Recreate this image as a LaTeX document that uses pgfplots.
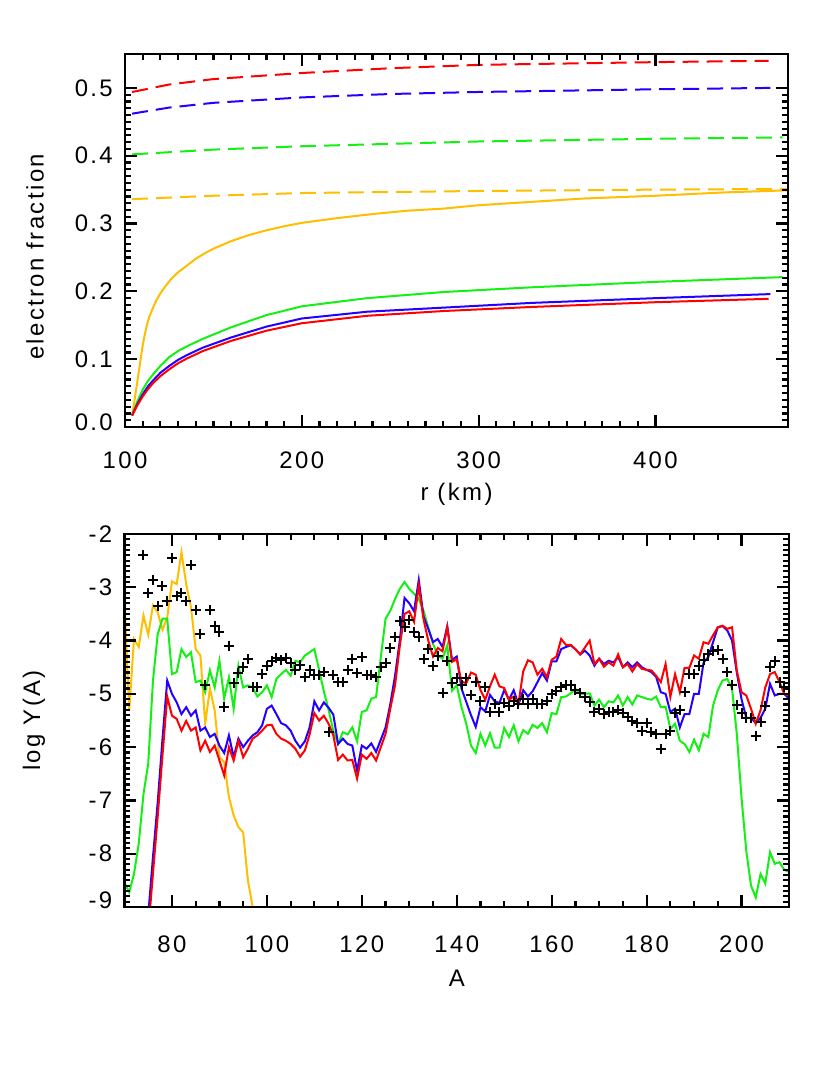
\documentclass[border=0pt]{standalone}
\usepackage{fontspec}
\setmainfont{Liberation Sans}[LetterSpace=10]
\usepackage{pgfplots}
\pgfplotsset{compat=1.18}
\usepackage{pgfplotstable}

\definecolor{cred}{RGB}{255,0,0}
\definecolor{cblue}{RGB}{35,0,255}
\definecolor{cgreen}{RGB}{20,240,20}
\definecolor{corange}{RGB}{255,190,0}

\pgfplotsset{
  idlaxis/.style={
    scale only axis, height=373bp, anchor=south west,
    axis on top,
    tick align=inside, xtick pos=both, ytick pos=both,
    major tick length=12bp, minor tick length=6bp,
    every tick/.append style={black, line width=2.2bp},
    axis line style={line width=2.5bp},
    tick label style={font=\fontsize{24}{28}\selectfont},
    label style={font=\fontsize{24}{28}\selectfont},
    xticklabel style={anchor=center, inner sep=0pt},
    yticklabel style={anchor=east, inner sep=0pt, xshift=-12bp},
    xlabel style={anchor=center},
    ylabel style={anchor=center},
  },
  dataline/.style={line width=2bp},
  datadash/.style={line width=2bp, dash pattern=on 16bp off 8bp},
}

\begin{document}
% bottom panel: log abundances per mass number
\pgfplotstableread{
A red blue green orange
70 nan nan -8.55 -3.30
71 nan nan -8.72 -5.31
72 nan nan -8.38 -3.97
73 nan nan -7.81 -4.12
74 nan nan -6.88 -3.53
75 -9.45 -9.15 -6.31 -3.89
76 -8.37 -8.06 -4.75 -3.34
77 -7.30 -7.03 -3.88 -3.47
78 -6.16 -5.85 -3.59 -3.80
79 -5.05 -4.75 -3.59 -3.57
80 -5.41 -5.00 -4.63 -2.89
81 -5.47 -5.16 -4.59 -2.94
82 -5.69 -5.38 -4.16 -2.34
83 -5.51 -5.25 -4.31 -2.94
84 -5.69 -5.41 -4.22 -3.37
85 -5.63 -5.31 -4.78 -4.16
86 -6.06 -5.69 -4.75 -4.28
87 -5.88 -5.63 -4.97 -5.56
88 -6.09 -5.81 -4.56 -4.90
89 -5.97 -5.75 -4.88 -5.31
90 -6.25 -5.97 -4.38 -6.19
91 -6.53 -6.11 -5.09 -6.28
92 -6.00 -5.78 -4.69 -6.94
93 -6.25 -6.19 -5.28 -7.28
94 -5.88 -5.84 -4.47 -7.50
95 -6.19 -6.00 -4.88 -7.60
96 -6.03 -5.88 -4.84 -8.50
97 -5.84 -5.78 -4.88 -9.00
98 -5.78 -5.72 -5.05 -9.60
99 -5.69 -5.59 -4.97 nan
100 -5.59 -5.28 -4.84 nan
101 -5.58 -5.22 -5.06 nan
102 -5.75 -5.38 -4.72 nan
103 -5.84 -5.55 -4.63 nan
104 -5.88 -5.59 -4.55 nan
105 -5.94 -5.69 -4.66 nan
106 -6.03 -5.88 -4.38 nan
107 -6.18 -6.01 -4.41 nan
108 -6.06 -5.89 -4.28 nan
109 -5.76 -5.63 -4.22 nan
110 -5.36 -5.14 -4.16 nan
111 -5.50 -5.31 -4.55 nan
112 -5.41 -5.16 -4.95 nan
113 -5.56 -5.26 -5.30 nan
114 -5.78 -5.39 -5.70 nan
115 -6.24 -5.94 -5.94 nan
116 -6.14 -5.84 -5.72 nan
117 -6.25 -5.94 -5.76 nan
118 -6.24 -5.97 -5.63 nan
119 -6.59 -6.44 -5.89 nan
120 -6.14 -5.97 -5.34 nan
121 -6.22 -6.03 -5.31 nan
122 -6.11 -5.93 -5.09 nan
123 -6.25 -6.09 -5.06 nan
124 -6.00 -5.86 -4.31 nan
125 -5.75 -5.63 -3.59 nan
126 -5.28 -5.19 -3.44 nan
127 -4.84 -4.66 -3.22 nan
128 -4.10 -4.00 -3.03 nan
129 -3.50 -3.20 -2.90 nan
130 -3.45 -3.30 -3.03 nan
131 -3.65 -3.45 -3.12 nan
132 -2.97 -2.86 -3.22 nan
133 -3.60 -3.55 -3.44 nan
134 -4.00 -3.78 -3.75 nan
135 -4.30 -4.03 -4.06 nan
136 -4.14 -3.97 -4.28 nan
137 -4.20 -4.12 -4.34 nan
138 -3.75 -3.73 -4.09 nan
139 -4.40 -4.36 -4.94 nan
140 -4.35 -4.30 -4.84 nan
141 -4.77 -4.90 -5.25 nan
142 -4.80 -5.15 -5.56 nan
143 -4.60 -5.40 -5.97 nan
144 -4.64 -5.62 -6.11 nan
145 -4.93 -5.25 -5.75 nan
146 -5.11 -5.33 -5.97 nan
147 -4.86 -5.02 -5.74 nan
148 -4.64 -5.14 -6.01 nan
149 -4.86 -5.17 -6.01 nan
150 -4.89 -4.93 -5.64 nan
151 -5.11 -5.11 -5.81 nan
152 -5.05 -4.93 -5.59 nan
153 -5.18 -5.20 -5.89 nan
154 -4.58 -4.93 -5.68 nan
155 -4.37 -5.05 -5.75 nan
156 -4.41 -4.95 -5.58 nan
157 -4.64 -4.78 -5.64 nan
158 -4.53 -4.61 -5.55 nan
159 -4.69 -4.75 -5.72 nan
160 -4.36 -4.39 -5.36 nan
161 -4.30 -4.39 -5.38 nan
162 -3.97 -4.16 -5.06 nan
163 -4.08 -4.12 -5.05 nan
164 -4.08 -4.09 -4.99 nan
165 -4.16 -4.16 -4.91 nan
166 -4.26 -4.26 -5.00 nan
167 -4.13 -4.19 -5.00 nan
168 -4.00 -4.28 -4.99 nan
169 -4.44 -4.47 -5.22 nan
170 -4.34 -4.34 -5.11 nan
171 -4.49 -4.44 -5.25 nan
172 -4.41 -4.38 -5.14 nan
173 -4.47 -4.41 -5.16 nan
174 -4.26 -4.31 -5.03 nan
175 -4.50 -4.50 -5.22 nan
176 -4.44 -4.41 -5.06 nan
177 -4.58 -4.50 -5.20 nan
178 -4.44 -4.41 -5.03 nan
179 -4.53 -4.50 -5.06 nan
180 -4.55 -4.55 -5.09 nan
181 -4.56 -4.59 -5.11 nan
182 -4.66 -4.68 -5.05 nan
183 -4.78 -4.97 -5.25 nan
184 -4.44 -5.00 -5.24 nan
185 -5.06 -5.34 -5.66 nan
186 -4.63 -5.28 -5.56 nan
187 -4.97 -5.63 -5.88 nan
188 -4.51 -5.38 -5.94 nan
189 -4.51 -5.38 -6.09 nan
190 -4.28 -5.00 -5.86 nan
191 -4.34 -5.00 -6.06 nan
192 -4.03 -4.41 -5.75 nan
193 -4.06 -4.31 -5.81 nan
194 -3.90 -4.03 -5.22 nan
195 -3.75 -3.75 -4.93 nan
196 -3.72 -3.73 -4.75 nan
197 -3.78 -3.81 -4.72 nan
198 -3.75 -4.00 -4.90 nan
199 -4.56 -4.60 -5.75 nan
200 -4.97 -5.10 -6.95 nan
201 -5.03 -5.45 -7.95 nan
202 -5.28 -5.45 -8.60 nan
203 -5.56 -5.55 -8.82 nan
204 -5.31 -5.45 -8.38 nan
205 -4.88 -5.28 -8.56 nan
206 -4.63 -4.81 -7.97 nan
207 -4.59 -5.03 -8.19 nan
208 -4.78 -5.00 -8.16 nan
209 -5.00 -5.00 -8.30 nan
210 -5.03 -5.09 -8.34 nan
}\abundtab
\pgfplotstableread{
A Y
74 -2.39
75 -3.10
76 -2.86
77 -3.35
78 -2.97
79 -3.25
80 -2.45
81 -3.17
82 -3.10
83 -3.26
84 -2.58
85 -3.42
86 -3.87
87 -4.83
88 -3.43
89 -3.72
90 -3.84
91 -5.24
92 -4.10
93 -4.80
94 -4.61
95 -4.49
96 -4.35
97 -4.88
98 -4.88
99 -4.62
100 -4.47
101 -4.38
102 -4.33
103 -4.36
104 -4.33
105 -4.43
106 -4.56
107 -4.46
108 -4.69
109 -4.56
110 -4.64
111 -4.64
112 -4.59
113 -5.72
114 -4.64
115 -4.78
116 -4.78
117 -4.55
118 -4.34
119 -4.61
120 -4.31
121 -4.64
122 -4.64
123 -4.68
124 -4.50
125 -4.43
126 -4.13
127 -3.93
128 -3.64
129 -3.75
130 -3.61
131 -3.84
132 -3.94
133 -4.34
134 -4.16
135 -4.47
136 -4.28
137 -4.98
138 -4.38
139 -4.80
140 -4.70
141 -4.83
142 -4.70
143 -5.03
144 -4.78
145 -5.13
146 -4.88
147 -5.34
148 -5.19
149 -5.34
150 -5.18
151 -5.22
152 -5.14
153 -5.19
154 -5.09
155 -5.19
156 -5.09
157 -5.19
158 -5.19
159 -5.13
160 -5.00
161 -4.95
162 -4.88
163 -4.84
164 -4.84
165 -4.93
166 -4.99
167 -5.06
168 -5.16
169 -5.34
170 -5.28
171 -5.38
172 -5.34
173 -5.34
174 -5.31
175 -5.36
176 -5.44
177 -5.50
178 -5.55
179 -5.69
180 -5.55
181 -5.72
182 -5.76
183 -6.03
184 -5.76
185 -5.69
186 -5.36
187 -5.31
188 -4.97
189 -4.63
190 -4.63
191 -4.47
192 -4.36
193 -4.25
194 -4.19
195 -4.18
196 -4.34
197 -4.59
198 -4.84
199 -5.20
200 -5.36
201 -5.45
202 -5.45
203 -5.80
204 -5.53
205 -5.22
206 -4.50
207 -4.39
208 -4.78
209 -4.87
}\solartab
\begin{tikzpicture}
\path[use as bounding box] (0,0) rectangle (830bp,-1068bp);

\begin{axis}[idlaxis, at={(125bp,-427bp)}, width=663bp,
  xmin=100, xmax=475, ymin=0, ymax=0.55,
  xtick={100,200,300,400}, minor x tick num=9,
  ytick={0,0.1,0.2,0.3,0.4,0.5}, minor y tick num=9,
  xticklabel style={yshift=-33bp},
  xticklabels={100,200,300,400},
  yticklabels={\raisebox{9bp}{0.0},0.1,0.2,0.3,0.4,0.5},
  xlabel={r (km)}, ylabel={electron fraction},
  xlabel style={at={(axis description cs:0.5,-0.18)}},
  ylabel style={at={(axis description cs:-0.1357,0.456)}},
]
\addplot[datadash, cred] coordinates {(104,0.494) (125,0.505) (150,0.513) (200,0.522) (250,0.529) (300,0.534) (400,0.538) (464,0.540)};
\addplot[datadash, cblue] coordinates {(104,0.462) (125,0.471) (150,0.478) (200,0.486) (250,0.491) (300,0.494) (400,0.498) (465,0.500)};
\addplot[datadash, cgreen] coordinates {(104,0.402) (150,0.409) (200,0.414) (300,0.421) (400,0.425) (472,0.427)};
\addplot[datadash, corange] coordinates {(104,0.336) (150,0.341) (200,0.345) (300,0.348) (400,0.350) (475,0.351)};
\addplot[dataline, corange] coordinates {(104,0.017) (105,0.033) (106,0.050) (107,0.067) (108,0.085) (109,0.103) (110,0.120) (111,0.134) (112,0.146) (113,0.156) (114,0.164) (116,0.177) (118,0.188) (120,0.197) (123,0.208) (126,0.218) (130,0.228) (135,0.238) (140,0.248) (145,0.256) (150,0.263) (160,0.274) (170,0.283) (180,0.290) (190,0.296) (200,0.301) (220,0.308) (240,0.314) (260,0.319) (280,0.322) (300,0.327) (330,0.332) (360,0.337) (400,0.341) (440,0.346) (475,0.349)};
\addplot[dataline, cgreen] coordinates {(104,0.017) (107,0.038) (110,0.055) (113,0.068) (116,0.078) (120,0.090) (125,0.103) (130,0.112) (135,0.119) (144,0.130) (160,0.147) (180,0.165) (200,0.178) (237,0.190) (280,0.199) (330,0.206) (400,0.214) (472,0.221)};
\addplot[dataline, cblue] coordinates {(104,0.017) (107,0.034) (110,0.048) (113,0.060) (116,0.069) (120,0.080) (125,0.090) (130,0.099) (135,0.106) (144,0.117) (160,0.132) (180,0.148) (200,0.160) (237,0.170) (280,0.176) (330,0.183) (400,0.190) (465,0.196)};
\addplot[dataline, cred] coordinates {(104,0.017) (107,0.032) (110,0.045) (113,0.056) (116,0.065) (120,0.075) (125,0.085) (130,0.094) (135,0.101) (144,0.112) (160,0.127) (180,0.142) (200,0.153) (237,0.164) (280,0.171) (330,0.177) (400,0.184) (464,0.189)};
\end{axis}

\begin{axis}[idlaxis, at={(124.5bp,-907bp)}, width=664.5bp,
  xmin=70, xmax=210, ymin=-9, ymax=-2,
  xtick={80,100,120,140,160,180,200}, minor x tick num=3,
  ytick={-9,-8,-7,-6,-5,-4,-3,-2}, minor y tick num=9,
  xticklabel style={yshift=-37bp},
  xticklabels={80,100,120,140,160,180,200},
  yticklabels={\raisebox{14bp}{-9},-8,-7,-6,-5,-4,-3,-2},
  xlabel={A}, ylabel={log Y(A)},
  xlabel style={at={(axis description cs:0.5,-0.19)}},
  ylabel style={at={(axis description cs:-0.1363,0.5)}},
  unbounded coords=jump,
]
\addplot[dataline, corange] table[x=A, y=orange] {\abundtab};
\addplot[dataline, cgreen] table[x=A, y=green] {\abundtab};
\addplot[dataline, cblue] table[x=A, y=blue] {\abundtab};
\addplot[dataline, cred] table[x=A, y=red] {\abundtab};
\addplot[only marks, mark=+, mark size=5bp, mark options={line width=2bp}, black] table[x=A, y=Y] {\solartab};
\end{axis}
\end{tikzpicture}
\end{document}
